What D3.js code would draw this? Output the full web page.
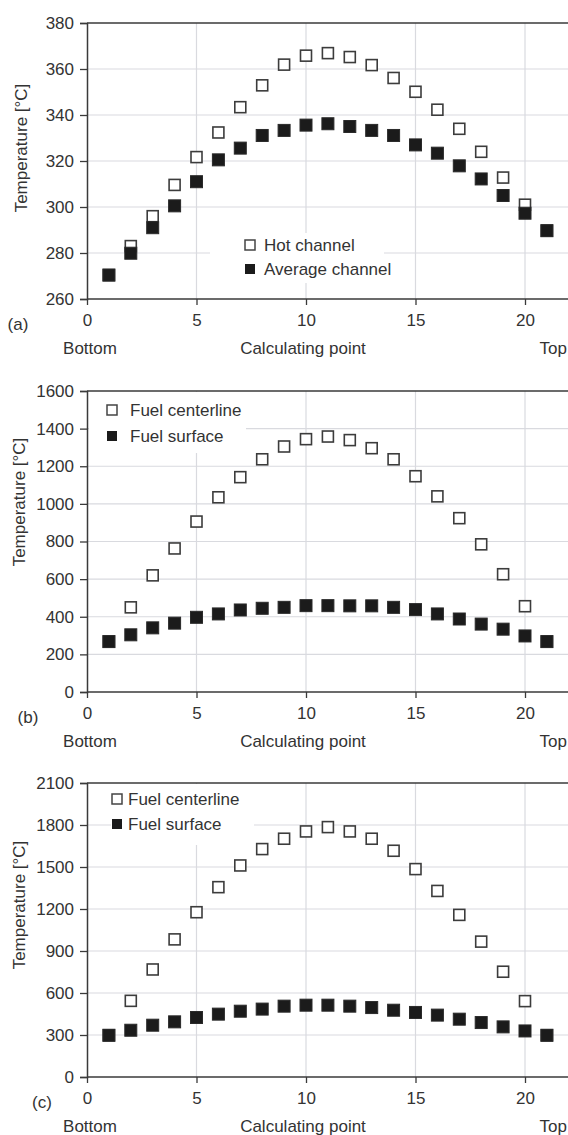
<!DOCTYPE html>
<html><head><meta charset="utf-8">
<script src="https://cdn.jsdelivr.net/npm/d3@7"></script>
<style>
html,body{margin:0;padding:0;background:#fff;}
svg{display:block;font-family:"Liberation Sans",Arial,sans-serif;}
</style></head>
<body>
<svg id="chart" width="568" height="1135"></svg>
<script>
// ---------- data ----------
const points = [1,2,3,4,5,6,7,8,9,10,11,12,13,14,15,16,17,18,19,20,21];
const xTicks = [0,5,10,15,20];

// panel (a)
const hotChannel     = [270.4,283,296,309.6,321.7,332.4,343.4,352.9,361.9,365.8,366.9,365.2,361.7,356.1,350.1,342.3,334,324,312.8,301,289.7];
const averageChannel = [270.4,279.9,291,300.5,311,320.5,325.6,331.1,333.3,335.6,336.2,335,333.3,331.1,327,323.4,317.9,312.2,305,297.3,289.7];
const yTicksA = [260,280,300,320,340,360,380];

// panel (b)
const centerlineB = [268,450,620,763,906,1035,1142,1237,1305,1344,1358,1339,1296,1237,1147,1040,924,785,626,456,268];
const surfaceB    = [268,304,341,366,397,415,436,445,450,459,459,458,458,450,438,415,388,361,334,298,268];
const yTicksB = [0,200,400,600,800,1000,1200,1400,1600];

// panel (c)
const centerlineC = [298,544,768,983,1177,1356,1511,1628,1702,1754,1785,1754,1702,1616,1485,1329,1158,967,752,542,298];
const surfaceC    = [298,334,370,394,425,449,470,485,506,513,513,506,496,477,461,442,413,389,358,329,298];
const yTicksC = [0,300,600,900,1200,1500,1800,2100];

const legendA = ["Hot channel","Average channel"];
const legendBC = ["Fuel centerline","Fuel surface"];

// ---------- layout ----------
const svg = d3.select("#chart");
const X0 = 87, UNIT = 21.9;
const x = d3.scaleLinear().domain([0,22]).range([X0, X0 + 22*UNIT]);

const panels = [
  {tag:"(a)", top:23, bottom:299, ticks:yTicksA, open:hotChannel, filled:averageChannel, names:legendA,
   leg:{bx:210, by:233, bw:174, bh:50, mx:250, tx:264, r1:245, r2:269},
   title:{x:21, y:148}, tagPos:{x:18}},
  {tag:"(b)", top:391, bottom:692, ticks:yTicksB, open:centerlineB, filled:surfaceB, names:legendBC,
   leg:{bx:89, by:392, bw:157, bh:61, mx:112, tx:130, r1:410, r2:436},
   title:{x:19, y:502}, tagPos:{x:28}},
  {tag:"(c)", top:783, bottom:1077, ticks:yTicksC, open:centerlineC, filled:surfaceC, names:legendBC,
   leg:{bx:111, by:784, bw:143, bh:61, mx:117, tx:128, r1:799, r2:824},
   title:{x:19, y:905}, tagPos:{x:42}}
];

const TXT = "#333";
const GRID = "#d9dadf";
const AX = "#3a3a3a";
const FS = 17;
const MS = 11;

panels.forEach(p => {
  const ticks = p.ticks;
  const y = d3.scaleLinear().domain([ticks[0], ticks[ticks.length-1]]).range([p.bottom, p.top]);
  const g = svg.append("g");

  // grid
  g.selectAll(".hg").data(ticks.slice(1, -1)).join("line")
    .attr("x1", x(0)).attr("x2", x(22)).attr("y1", d => y(d)).attr("y2", d => y(d))
    .attr("stroke", GRID).attr("stroke-width", 1.2);
  g.selectAll(".vg").data(xTicks.slice(1)).join("line")
    .attr("x1", d => x(d)).attr("x2", d => x(d)).attr("y1", p.top).attr("y2", p.bottom)
    .attr("stroke", GRID).attr("stroke-width", 1.2);

  // legend background
  g.append("rect").attr("x", p.leg.bx).attr("y", p.leg.by).attr("width", p.leg.bw).attr("height", p.leg.bh)
    .attr("fill", "#fff");

  // top border
  g.append("line").attr("x1", x(0)).attr("x2", x(22)).attr("y1", p.top).attr("y2", p.top)
    .attr("stroke", AX).attr("stroke-width", 1.5);

  // y axis
  const ya = d3.axisLeft(y).tickValues(ticks).tickSize(7).tickPadding(6).tickFormat(d3.format("d"));
  const yg = g.append("g").attr("transform", `translate(${x(0)},0)`).call(ya);
  yg.select(".domain").attr("stroke", AX).attr("stroke-width", 1.5);
  yg.selectAll(".tick line").attr("stroke", AX).attr("stroke-width", 1.3);
  yg.selectAll("text").attr("fill", TXT).attr("font-size", FS).attr("font-family", "Liberation Sans, Arial, sans-serif");

  // x axis
  const xa = d3.axisBottom(x).tickValues(xTicks).tickSize(6).tickPadding(9).tickFormat(d3.format("d"));
  const xg = g.append("g").attr("transform", `translate(0,${p.bottom})`).call(xa);
  xg.select(".domain").attr("stroke", AX).attr("stroke-width", 1.5).attr("d", `M${x(0)},0H${x(22)}`);
  xg.selectAll(".tick line").attr("stroke", AX).attr("stroke-width", 1.3);
  xg.selectAll("text").attr("fill", TXT).attr("font-size", FS).attr("font-family", "Liberation Sans, Arial, sans-serif");

  // panel tag
  g.append("text").attr("x", p.tagPos.x).attr("y", p.bottom + 25).attr("dy", "0.35em")
    .attr("text-anchor", "middle").attr("fill", TXT).attr("font-size", FS).text(p.tag);

  // bottom labels
  const lby = p.bottom + 49;
  g.append("text").attr("x", 90).attr("y", lby).attr("dy", "0.35em").attr("text-anchor", "middle")
    .attr("fill", TXT).attr("font-size", FS).text("Bottom");
  g.append("text").attr("x", 303).attr("y", lby).attr("dy", "0.35em").attr("text-anchor", "middle")
    .attr("fill", TXT).attr("font-size", FS).text("Calculating point");
  g.append("text").attr("x", 567).attr("y", lby).attr("dy", "0.35em").attr("text-anchor", "end")
    .attr("fill", TXT).attr("font-size", FS).text("Top");

  // y title
  g.append("text").attr("transform", `translate(${p.title.x},${p.title.y}) rotate(-90)`)
    .attr("dy", "0.35em").attr("text-anchor", "middle").attr("fill", TXT).attr("font-size", FS)
    .text("Temperature [°C]");

  // markers: open first, filled on top
  g.selectAll(".open").data(points.map((d,i) => [d, p.open[i]])).join("rect")
    .attr("x", d => x(d[0]) - MS/2).attr("y", d => y(d[1]) - MS/2)
    .attr("width", MS).attr("height", MS)
    .attr("fill", "#fff").attr("stroke", "#3c3c3c").attr("stroke-width", 1.6);
  g.selectAll(".filled").data(points.map((d,i) => [d, p.filled[i]])).join("rect")
    .attr("x", d => x(d[0]) - MS/2 - 0.5).attr("y", d => y(d[1]) - MS/2 - 0.5)
    .attr("width", MS + 1).attr("height", MS + 1)
    .attr("fill", "#1b1b1b").attr("stroke", "#2a2a2a").attr("stroke-width", 1);

  // legend
  const LS = 10;
  g.append("rect").attr("x", p.leg.mx - LS/2).attr("y", p.leg.r1 - LS/2).attr("width", LS).attr("height", LS)
    .attr("fill", "#fff").attr("stroke", "#444").attr("stroke-width", 1.5);
  g.append("rect").attr("x", p.leg.mx - LS/2).attr("y", p.leg.r2 - LS/2).attr("width", LS).attr("height", LS)
    .attr("fill", "#1b1b1b");
  g.append("text").attr("x", p.leg.tx).attr("y", p.leg.r1).attr("dy", "0.35em")
    .attr("fill", TXT).attr("font-size", FS).text(p.names[0]);
  g.append("text").attr("x", p.leg.tx).attr("y", p.leg.r2).attr("dy", "0.35em")
    .attr("fill", TXT).attr("font-size", FS).text(p.names[1]);
});
</script>
</body></html>
